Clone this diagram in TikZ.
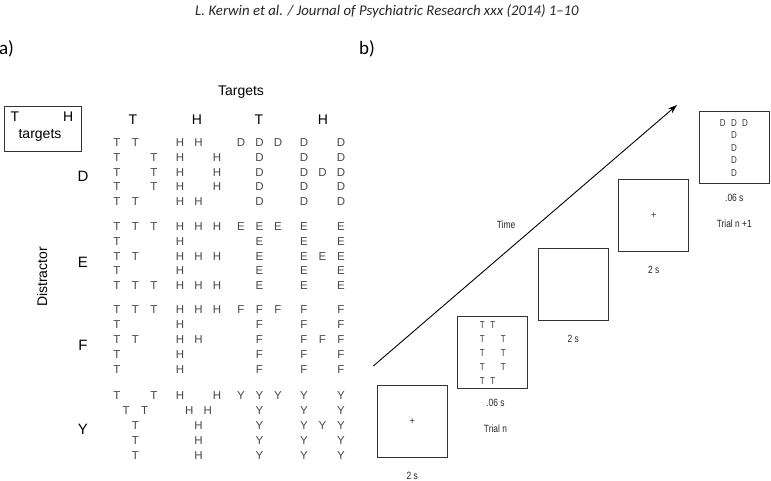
\documentclass[tikz,border=0pt]{standalone}
\usepackage{fontspec}
\usepackage{tikz}
\usetikzlibrary{arrows.meta, positioning}
\newfontfamily\arial{Liberation Sans}
\newfontfamily\narrow[FakeStretch=0.8]{Liberation Sans}
\newfontfamily\carl{Carlito}
\def\shapeD{0/0,1/0,0/1,2/1,0/2,2/2,0/3,2/3,0/4,1/4}
\def\shapeEa{0/0,1/0,2/0,0/1,0/2,1/2,0/3,0/4,1/4,2/4}
\def\shapeEb{0/0,1/0,2/0,0/1,0/2,1/2,2/2,0/3,0/4,1/4,2/4}
\def\shapeF{0/0,1/0,2/0,0/1,0/2,1/2,0/3,0/4}
\def\shapeY{0/0,2/0,0.5/1,1.5/1,1/2,1/3,1/4}
\def\shapeT{0/0,1/0,2/0,1/1,1/2,1/3,1/4}
\def\shapeH{0/0,2/0,0/1,2/1,0/2,1/2,2/2,0/3,2/3,0/4,2/4}
\def\gx{18.5}\def\gy{14.8}
\newcommand{\glob}[6]{%
  \foreach \i/\j in #5 {\node[#6] (#1-\i-\j) at ({#2+\gx*\i},{#3+\gy*\j}) {#4};}}
\begin{document}
\begin{tikzpicture}[x=1pt, y=-1pt, node distance=4pt,
  loc/.style={font=\arial\fontsize{11.5}{12}\selectfont, text=black!72, inner sep=0pt},
  head/.style={font=\arial\fontsize{14}{15}\selectfont, inner sep=0pt},
  panel/.style={font=\carl\fontsize{19}{20}\selectfont, inner sep=0pt},
  screen/.style={draw=black!80, line width=1.1pt, minimum width=70pt, minimum height=72pt, inner sep=0pt},
  small/.style={font=\narrow\fontsize{10}{11}\selectfont, text=black!78, inner sep=0pt},
  lbl/.style={font=\narrow\fontsize{10.5}{11}\selectfont, text=black!85, inner sep=0pt}]
\useasboundingbox (0,0) rectangle (771,481);
\node[font=\carl\itshape\fontsize{14.8}{16}\selectfont, text=black!85] (hdr) at (387,11.7)
  {L. Kerwin et al. / Journal of Psychiatric Research xxx (2014) 1–10};
\node[panel] (pa) at (6.5,49) {a)};
\node[panel] (pb) at (367,49) {b)};

\node[head] (tg) at (241,91.7) {Targets};
\node[draw=black!80, line width=1pt, minimum width=76.7pt, minimum height=45pt] (legend) at (43.3,129.2) {};
\node[head] (lt) at (15,116.7) {T};
\node[head] (lh) at (68.3,116.7) {H};
\node[head] (ltg) at (40,135.5) {targets};
\node[head, rotate=90] (dis) at (42,277) {Distractor};
\node[head] (c1) at (133,120) {T};
\node[head] (c2) at (197,120) {H};
\node[head] (c3) at (259,120) {T};
\node[head] (c4) at (323,120) {H};
\node[head, font=\arial\fontsize{15}{16}\selectfont] (rd) at (83,176) {D};
\node[head, font=\arial\fontsize{15}{16}\selectfont] (re) at (83,262) {E};
\node[head, font=\arial\fontsize{15}{16}\selectfont] (rf) at (83,345) {F};
\node[head, font=\arial\fontsize{15}{16}\selectfont] (ry) at (83,429) {Y};

\glob{dt}{117}{142.5}{T}{\shapeD}{loc}
\glob{dh}{180}{142.5}{H}{\shapeD}{loc}
\glob{td}{241}{142.5}{D}{\shapeT}{loc}
\glob{hd}{304}{142.5}{D}{\shapeH}{loc}
\glob{et}{117}{226.5}{T}{\shapeEa}{loc}
\glob{eh}{180}{226.5}{H}{\shapeEb}{loc}
\glob{te}{241}{226.5}{E}{\shapeT}{loc}
\glob{he}{304}{226.5}{E}{\shapeH}{loc}
\glob{ft}{117}{310}{T}{\shapeF}{loc}
\glob{fh}{180}{310}{H}{\shapeF}{loc}
\glob{tf}{241}{310}{F}{\shapeT}{loc}
\glob{hf}{304}{310}{F}{\shapeH}{loc}
\glob{yt}{117}{396}{T}{\shapeY}{loc}
\glob{yh}{180}{396}{H}{\shapeY}{loc}
\glob{ty}{241}{396}{Y}{\shapeT}{loc}
\glob{hy}{304}{396}{Y}{\shapeH}{loc}

\coordinate (tstart) at (373.3,366);
\coordinate (tend) at (677,105);
\draw[-{Stealth[length=9pt,width=6pt]}, line width=0.9pt] (tstart) -- (tend);
\node[lbl] (time) at (506,224.7) {Time};

\node[screen] (b0) at (412.3,421.3) {};
\node[screen] (b1) at (492.5,352.7) {};
\node[screen] (b2) at (573.2,284.2) {};
\node[screen] (b3) at (653.8,215.8) {};
\node[screen] (b4) at (734.3,147.2) {};
\node[small, font=\arial\fontsize{10}{11}\selectfont] (x0) at (b0) {+};
\node[small, font=\arial\fontsize{10}{11}\selectfont] (x3) at (b3) {+};
\def\gx{10.5}\def\gy{13.9}
\glob{st}{482.3}{325}{T}{\shapeD}{small}
\def\gx{11.2}\def\gy{12.5}
\glob{sd}{722.7}{122.7}{D}{\shapeT}{small}

\node[lbl, below=14pt of b0] (l0) {2 s};
\node[lbl, below=10pt of b1, xshift=3pt] (l1) {.06 s};
\node[lbl, below=18pt of l1] (n1) {Trial n};
\node[lbl, below=14pt of b2] (l2) {2 s};
\node[lbl, below=14pt of b3] (l3) {2 s};
\node[lbl, below=10pt of b4] (l4) {.06 s};
\node[lbl, below=18pt of l4] (n4) {Trial n +1};
\end{tikzpicture}
\end{document}
